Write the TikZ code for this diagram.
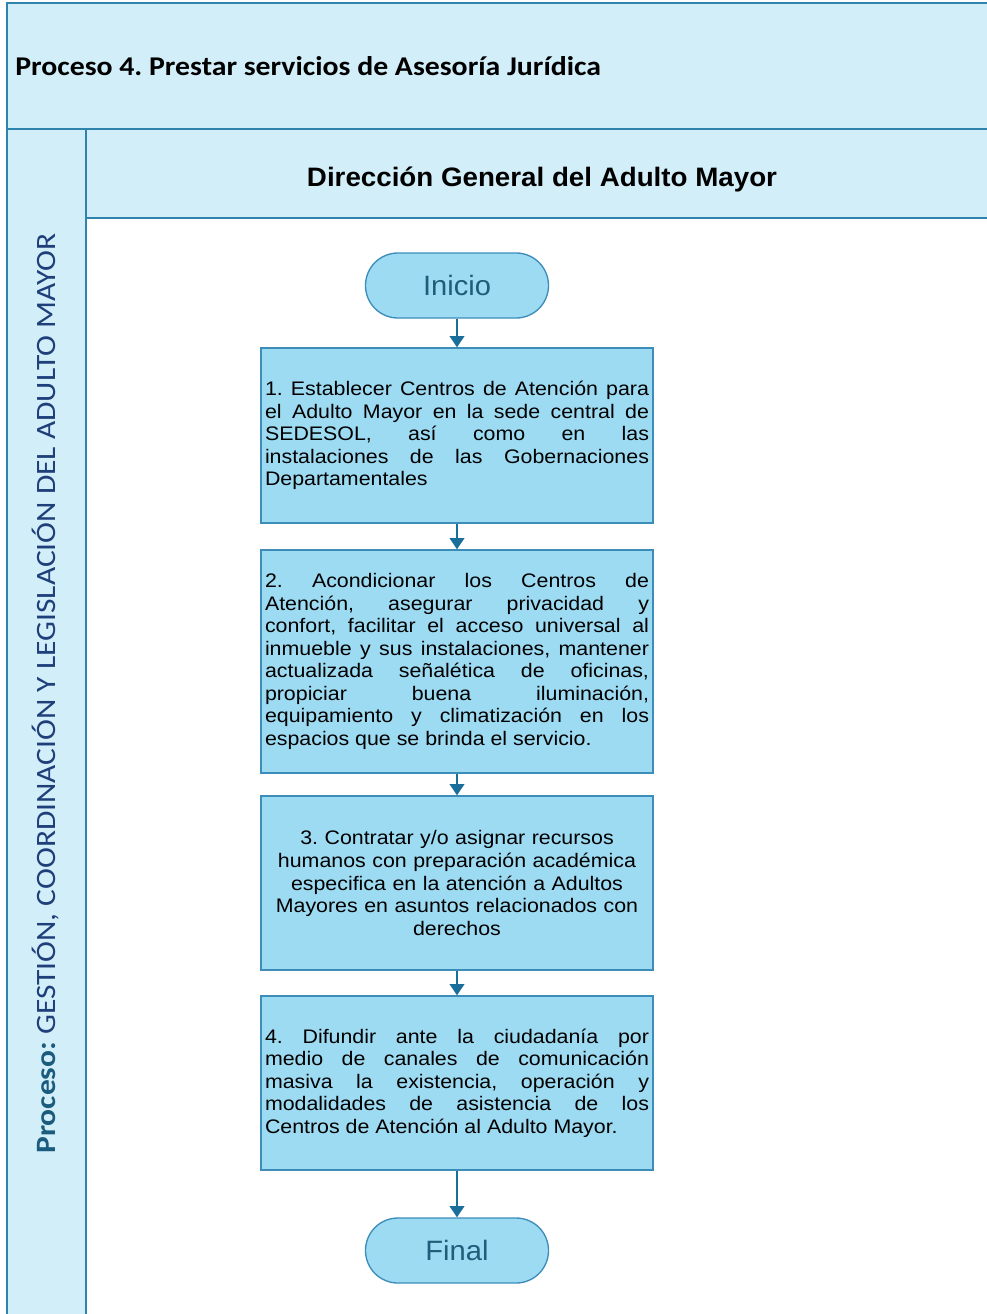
\documentclass[tikz,border=0pt]{standalone}
\usepackage{fontspec}
\setmainfont{Liberation Sans}
\newfontfamily\boxfont[FakeStretch=1.09]{Liberation Sans}
\newfontfamily\headfont[FakeStretch=1.04]{Liberation Sans}
\newfontfamily\calib[FakeStretch=1.1]{Carlito}
\newfontfamily\calibv[FakeStretch=1.125]{Carlito}
\usetikzlibrary{arrows.meta}
\definecolor{lanefill}{HTML}{D2EEF8}
\definecolor{laneline}{HTML}{2F84AD}
\definecolor{boxfill}{HTML}{9DDBF3}
\definecolor{boxline}{HTML}{3C8DBA}
\definecolor{arrowc}{HTML}{1A6E9A}
\definecolor{termtext}{HTML}{215C78}
\definecolor{proctext}{HTML}{1B5B7E}
\definecolor{lanetext}{HTML}{1F3F7A}
\tikzset{
  laneborder/.style={draw=laneline, line width=1.5pt},
  stepbox/.style={draw=boxline, fill=boxfill, line width=1pt, minimum width=294pt,
    text width=288pt, inner sep=3pt, font=\boxfont\fontsize{14.7pt}{16.9pt}\selectfont\frenchspacing},
  terminal/.style={draw=boxline, fill=boxfill, line width=1pt, minimum width=137.25pt,
    minimum height=48.75pt, rounded corners=24.3pt, text=termtext,
    font=\headfont\fontsize{21pt}{24pt}\selectfont},
  flow/.style={draw=arrowc, line width=1.5pt, -{Triangle[length=8.5pt,width=11pt]}}
}
\begin{document}
\frenchspacing
\begin{tikzpicture}[x=0.75pt,y=-0.75pt]
\useasboundingbox (0,0) rectangle (987,1314);
% lanes
\fill[lanefill] (7,3) rectangle (995,1320);
\fill[white] (86,218) rectangle (995,1320);
\draw[laneborder] (7,1320) -- (7,3) -- (995,3);
\draw[laneborder] (7,129) -- (995,129);
\draw[laneborder] (86,129) -- (86,1320);
\draw[laneborder] (86,218) -- (995,218);
% texts of lanes
\node[anchor=west, inner sep=0pt, font=\calib\bfseries\fontsize{20.3pt}{24pt}\selectfont\frenchspacing] (title) at (15,66) {Proceso 4. Prestar servicios de Asesoría Jurídica};
\node[inner sep=0pt, font=\headfont\bfseries\fontsize{20pt}{24pt}\selectfont] (dept) at (542,179) {Dirección General del Adulto Mayor};
\node[rotate=90, inner sep=0pt, font=\calibv\fontsize{21pt}{24pt}\selectfont\frenchspacing, text=lanetext] (proc) at (46,693.5) {\textcolor{proctext}{\bfseries Proceso:} GESTIÓN, COORDINACIÓN Y LEGISLACIÓN DEL ADULTO MAYOR};
% flow
\node[terminal] (inicio) at (457,285.5) {Inicio};
\node[stepbox, minimum height=131.25pt, align=justify] (s1) at (457,435.5) {1. Establecer Centros de Atención para\linebreak el Adulto Mayor en la sede central de\linebreak SEDESOL, así como en las\linebreak instalaciones de las Gobernaciones\linebreak Departamentales};
\node[stepbox, minimum height=167.25pt, align=justify] (s2) at (457,661.5) {2. Acondicionar los Centros de\linebreak Atención, asegurar privacidad y\linebreak confort, facilitar el acceso universal al\linebreak inmueble y sus instalaciones, mantener\linebreak actualizada señalética de oficinas,\linebreak propiciar buena iluminación,\linebreak equipamiento y climatización en los\linebreak espacios que se brinda el servicio.};
\node[stepbox, minimum height=130.5pt, align=center] (s3) at (457,883) {3. Contratar y/o asignar recursos\\ humanos con preparación académica\\ especifica en la atención a Adultos\\ Mayores en asuntos relacionados con\\ derechos};
\node[stepbox, minimum height=130.5pt, align=justify] (s4) at (457,1083) {4. Difundir ante la ciudadanía por\linebreak medio de canales de comunicación\linebreak masiva la existencia, operación y\linebreak modalidades de asistencia de los\linebreak Centros de Atención al Adulto Mayor.};
\node[terminal] (final) at (457,1250.5) {Final};
\draw[flow] (inicio) -- (s1);
\draw[flow] (s1) -- (s2);
\draw[flow] (s2) -- (s3);
\draw[flow] (s3) -- (s4);
\draw[flow] (s4) -- (final);
\end{tikzpicture}
\end{document}
